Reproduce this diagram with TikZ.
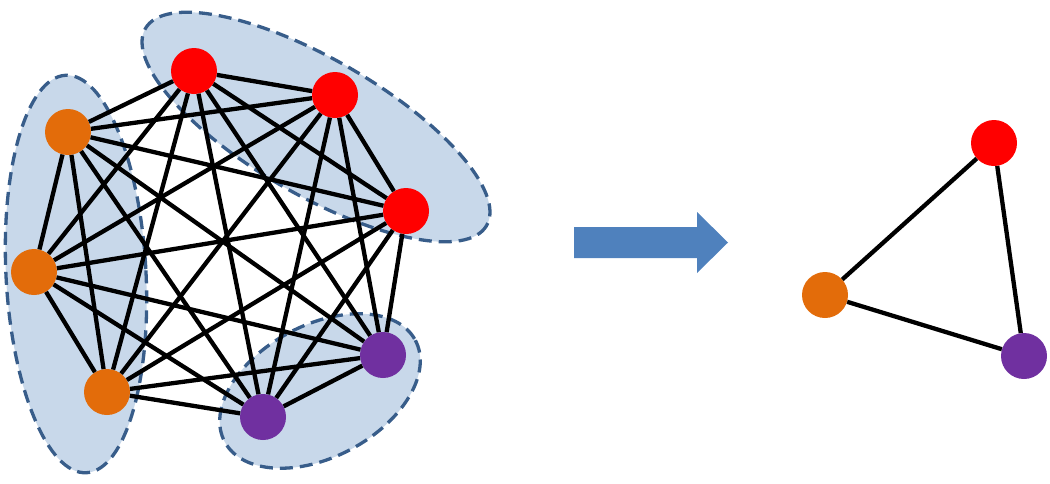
\documentclass[tikz,border=0pt]{standalone}
\definecolor{nodered}{RGB}{255,0,0}
\definecolor{nodeorange}{RGB}{227,108,10}
\definecolor{nodepurple}{RGB}{112,48,160}
\definecolor{blobfill}{RGB}{200,216,234}
\definecolor{blobline}{RGB}{56,93,138}
\definecolor{arrowblue}{RGB}{79,129,189}
\begin{document}
\begin{tikzpicture}[x=1pt,y=-1pt,
    vtx/.style={circle,inner sep=0pt,minimum size=46pt},
    blob/.style={fill=blobfill,draw=blobline,line width=3.3pt,dash pattern=on 13pt off 7pt},
    link/.style={line width=4.3pt}]
  \useasboundingbox (0,0) rectangle (1050,483);
  % groups
  \draw[blob,rotate around={3:(76,274)}] (76,274) ellipse [x radius=70,y radius=199];
  \draw[blob,rotate around={-30:(316,127)}] (316,127) ellipse [x radius=197,y radius=68];
  \draw[blob,rotate around={28:(320,391)}] (320,391) ellipse [x radius=108,y radius=66];
  % full graph
  \node[vtx,fill=nodered] (r1) at (194,71) {};
  \node[vtx,fill=nodered] (r2) at (335,95) {};
  \node[vtx,fill=nodered] (r3) at (406,211) {};
  \node[vtx,fill=nodeorange] (o1) at (68,132) {};
  \node[vtx,fill=nodeorange] (o2) at (34,272) {};
  \node[vtx,fill=nodeorange] (o3) at (107,392) {};
  \node[vtx,fill=nodepurple] (p1) at (383,355) {};
  \node[vtx,fill=nodepurple] (p2) at (263,417) {};
  \draw[link] (r1) -- (r2) (r1) -- (r3) (r1) -- (o1) (r1) -- (o2)
              (r1) -- (o3) (r1) -- (p1) (r1) -- (p2);
  \draw[link] (r2) -- (r3) (r2) -- (o1) (r2) -- (o2) (r2) -- (o3)
              (r2) -- (p1) (r2) -- (p2);
  \draw[link] (r3) -- (o1) (r3) -- (o2) (r3) -- (o3) (r3) -- (p1)
              (r3) -- (p2);
  \draw[link] (o1) -- (o2) (o1) -- (o3) (o1) -- (p1) (o1) -- (p2);
  \draw[link] (o2) -- (o3) (o2) -- (p1) (o2) -- (p2);
  \draw[link] (o3) -- (p1) (o3) -- (p2);
  \draw[link] (p1) -- (p2);
  % arrow
  \fill[arrowblue] (574,227) -- (697,227) -- (697,212) -- (728,242.5)
                   -- (697,273) -- (697,258) -- (574,258) -- cycle;
  % reduced graph
  \node[vtx,fill=nodered] (tr) at (994,143) {};
  \node[vtx,fill=nodeorange] (to) at (825,295) {};
  \node[vtx,fill=nodepurple] (tp) at (1024,356) {};
  \draw[link] (tr) -- (to) -- (tp) -- (tr);
\end{tikzpicture}
\end{document}
